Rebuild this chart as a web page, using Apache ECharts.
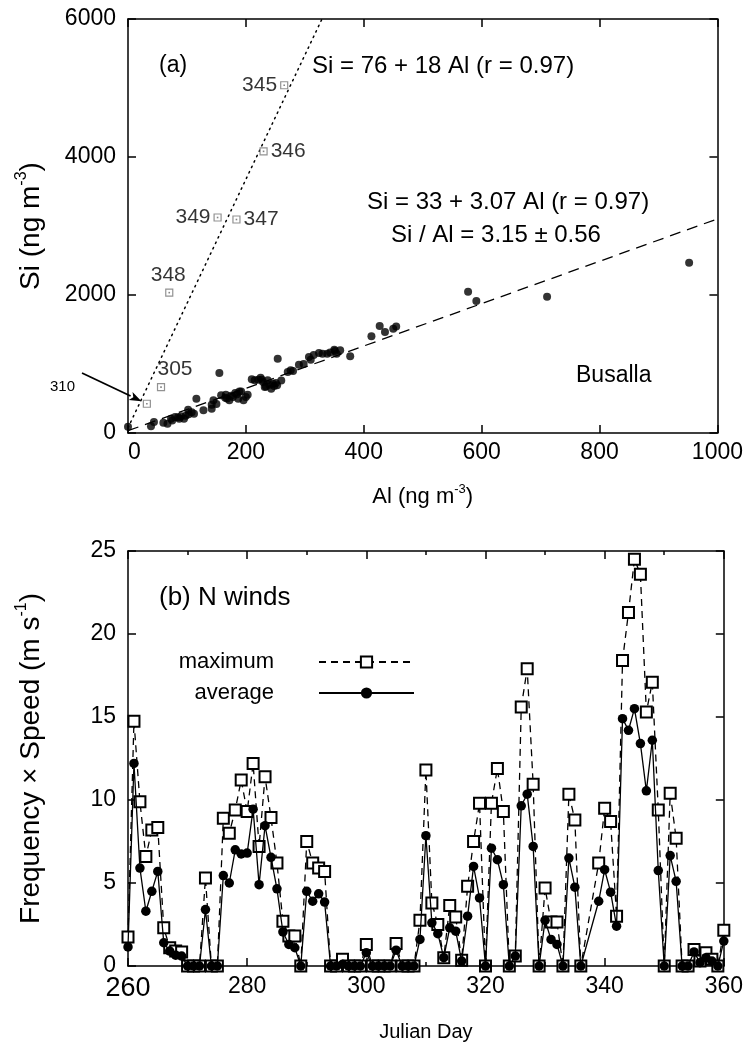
<!DOCTYPE html>
<html><head><meta charset="utf-8">
<script src="https://cdn.jsdelivr.net/npm/echarts@6/dist/echarts.min.js"></script>
<style>html,body{margin:0;padding:0;background:#fff}#c{width:746px;height:1047px}</style>
</head><body><div id="c"></div>
<script>
const FONT = '"Liberation Sans", Arial, Helvetica, sans-serif';

// ---------- (a) Si vs Al, Busalla ----------
const dotAl = [0,39,44,60,67,73,75,80,85,87,90,95,98,102,103,108,112,116,128,142,142,145,150,155,158,165,166,168,172,175,178,182,185,187,189,192,196,200,203,210,215,221,225,227,229,232,234,237,240,243,246,248,251,253,254,260,271,276,280,290,298,307,310,315,324,330,338,343,350,351,354,360,377,413,427,436,450,455,577,591,711,952];
const dotSi = [90,97,160,150,135,208,180,232,230,208,241,208,250,338,270,300,280,497,330,353,410,473,420,869,546,512,554,500,473,540,522,580,560,497,602,600,473,520,555,780,763,773,800,771,739,666,675,763,700,642,715,680,723,691,1077,760,884,908,900,990,1000,1101,1063,1130,1159,1150,1150,1166,1205,1188,1150,1200,1111,1401,1550,1463,1512,1542,2048,1913,1976,2467];
const eventDay = ['345','346','349','347','348','305','310'];
const eventAl = [265,230,152,184,70,56,32];
const eventSi = [5040,4082,3123,3094,2034,665,424];
const fitAll = {a: 33, b: 3.07};     // Si = 33 + 3.07 Al
const fitEvent = {a: 76, b: 18};     // Si = 76 + 18 Al
const xTicksA = {min: 0, max: 1000, step: 200};
const yTicksA = {min: 0, max: 6000, step: 2000};

// ---------- (b) N winds ----------
const days = [260,261,262,263,264,265,266,267,268,269,270,271,272,273,274,275,276,277,278,279,280,281,282,283,284,285,286,287,288,289,290,291,292,293,294,295,296,297,298,299,300,301,302,303,304,305,306,307,308,309,310,311,312,313,314,315,316,317,318,319,320,321,322,323,324,325,326,327,328,329,330,331,332,333,334,335,336,339,340,341,342,343,344,345,346,347,348,349,350,351,352,353,354,355,356,357,358,359,360];
const maxVals = [1.75,14.75,9.9,6.6,8.2,8.35,2.3,1.1,0.9,0.85,0,0,0,5.3,0,0,8.9,8.0,9.4,11.2,9.3,12.2,7.2,11.4,8.95,6.2,2.7,1.8,1.8,0,7.5,6.2,5.9,5.7,0,0,0.4,0,0,0,1.3,0,0,0,0,1.35,0,0,0,2.75,11.8,3.8,2.5,0.5,3.65,2.95,0.35,4.8,7.5,9.8,0,9.8,11.9,9.3,0,0.6,15.6,17.9,10.95,0,4.7,2.65,2.65,0,10.35,8.8,0,6.2,9.5,8.7,3.0,18.4,21.3,24.5,23.6,15.3,17.1,9.4,0,10.4,7.7,0,0,1.0,0.3,0.8,0.4,0,2.15];
const avgVals = [1.15,12.2,5.9,3.3,4.5,5.7,1.4,0.9,0.65,0.6,0,0,0,3.4,0,0,5.45,5.0,7.0,6.75,6.8,9.45,4.9,8.45,6.55,4.65,2.05,1.3,1.1,0,4.5,3.9,4.35,3.85,0,0,0.1,0,0,0,0.8,0,0,0,0,0.95,0,0,0,1.6,7.85,2.6,1.95,0.5,2.3,2.1,0.3,3.0,6.0,4.1,0,7.1,6.4,4.9,0,0.6,9.65,10.35,7.2,0,2.75,1.6,1.3,0,6.5,4.75,0,3.9,5.8,4.45,2.4,14.9,14.2,15.5,13.4,10.55,13.6,5.75,0,6.65,5.1,0,0,0.85,0.2,0.5,0.3,0,1.5];
const seriesNames = ['maximum', 'average'];
const xTicksB = {min: 260, max: 360, step: 20};
const yTicksB = {min: 0, max: 25, step: 5};

// ---------- build ----------
const chart = echarts.init(document.getElementById('c'), null, {renderer: 'canvas'});
const black = '#000';
const lw = 1.5;
const richX = {
  n: {fontSize: 22, fontFamily: FONT, color: black, lineHeight: 28},
  s: {fontSize: 13, fontFamily: FONT, color: black, verticalAlign: 'top', lineHeight: 14}
};
const richY = {
  n: {fontSize: 28, fontFamily: FONT, color: black, lineHeight: 34},
  s: {fontSize: 16, fontFamily: FONT, color: black, verticalAlign: 'top', lineHeight: 17}
};
const plain = v => String(v);
function axisBase(t, extra) {
  return Object.assign({
    type: 'value', min: t.min, max: t.max, interval: t.step,
    axisLine: {show: true, onZero: false, lineStyle: {color: black, width: lw}},
    axisTick: {show: true, inside: true, length: 8, lineStyle: {color: black, width: lw}},
    splitLine: {show: false},
    axisLabel: {show: true, color: black, fontSize: 23, fontFamily: FONT, margin: 9, formatter: plain}
  }, extra);
}
const grids = [
  {left: 128, right: 21, top: 19, height: 414},
  {left: 128, right: 21, top: 551, height: 415}
];
const xAxes = [
  axisBase(xTicksA, {gridIndex: 0, position: 'bottom',
    axisLabel: {color: black, fontSize: 23, fontFamily: FONT, margin: 8, alignMinLabel: 'left', formatter: plain},
    name: '{n|Al (ng m}{s|-3}{n|)}', nameLocation: 'middle', nameGap: 50,
    nameTextStyle: {rich: richX}}),
  axisBase(xTicksA, {gridIndex: 0, position: 'top', axisLabel: {show: false}}),
  axisBase(xTicksB, {gridIndex: 1, position: 'bottom',
    minorTick: {show: true, splitNumber: 2, length: 4, lineStyle: {color: black, width: lw}},
    axisLabel: {color: black, fontSize: 23, fontFamily: FONT, margin: 9,
      formatter: v => v === xTicksB.min ? '{big|' + v + '}' : String(v),
      rich: {big: {fontSize: 27, fontFamily: FONT, color: black}}},
    name: 'Julian Day', nameLocation: 'middle', nameGap: 56,
    nameTextStyle: {fontSize: 20, fontFamily: FONT, color: black}}),
  axisBase(xTicksB, {gridIndex: 1, position: 'top', axisLabel: {show: false},
    minorTick: {show: true, splitNumber: 2, length: 4, lineStyle: {color: black, width: lw}}})
];
const yAxes = [
  axisBase(yTicksA, {gridIndex: 0, position: 'left',
    axisLabel: {color: black, fontSize: 23, fontFamily: FONT, margin: 12, formatter: plain},
    name: '{n|Si (ng m}{s|-3}{n|)}', nameLocation: 'middle', nameGap: 80,
    nameTextStyle: {rich: richY}}),
  axisBase(yTicksA, {gridIndex: 0, position: 'right', axisLabel: {show: false}}),
  axisBase(yTicksB, {gridIndex: 1, position: 'left',
    axisLabel: {color: black, fontSize: 23, fontFamily: FONT, margin: 12, formatter: plain},
    name: '{n|Frequency × Speed (m s}{s|-1}{n|)}', nameLocation: 'middle', nameGap: 80,
    nameTextStyle: {rich: richY}}),
  axisBase(yTicksB, {gridIndex: 1, position: 'right', axisLabel: {show: false}})
];

const fitLine = (f, xmax) => [[0, f.a], [xmax, f.a + f.b * xmax]];
const eventXmax = (yTicksA.max - fitEvent.a) / fitEvent.b;
const labelPos = {'345': 'left', '346': 'right', '349': 'left', '347': 'right', '348': 'top', '305': 'top', '310': 'none'};
const labelOffset = {'305': [14, 0], '348': [-1, 0]};
const eventPts = eventAl.map((x, i) => [x, eventSi[i]]);

const series = [
  {type: 'line', name: 'fitAll', xAxisIndex: 0, yAxisIndex: 0, data: fitLine(fitAll, xTicksA.max),
   showSymbol: false, silent: true, z: 1,
   lineStyle: {color: black, width: 1.3, type: [11, 7]}},
  {type: 'line', name: 'fitEvent', xAxisIndex: 0, yAxisIndex: 0, data: fitLine(fitEvent, eventXmax),
   showSymbol: false, silent: true, z: 1,
   lineStyle: {color: black, width: 1.5, type: [1.5, 4.5], cap: 'round'}},
  {type: 'scatter', name: 'all', xAxisIndex: 0, yAxisIndex: 0,
   data: dotAl.map((x, i) => [x, dotSi[i]]),
   symbol: 'circle', symbolSize: 8, itemStyle: {color: black}, z: 3},
  {type: 'scatter', name: 'events', xAxisIndex: 0, yAxisIndex: 0,
   data: eventPts.map((v, i) => ({
     value: v, name: eventDay[i],
     label: labelPos[eventDay[i]] === 'none' ? {show: false} :
       {show: true, position: labelPos[eventDay[i]], distance: 3,
        offset: labelOffset[eventDay[i]] || [0, 0]}
   })),
   symbol: 'rect', symbolSize: 7,
   itemStyle: {color: '#fff', borderColor: '#777', borderWidth: 1.2},
   label: {formatter: p => p.name, color: black, fontSize: 21, fontFamily: FONT},
   z: 4},
  {type: 'scatter', name: 'eventsDot', xAxisIndex: 0, yAxisIndex: 0, data: eventPts,
   symbol: 'rect', symbolSize: 1.6, itemStyle: {color: '#666'}, silent: true, z: 5},
  {type: 'line', name: seriesNames[0], xAxisIndex: 2, yAxisIndex: 2,
   data: days.map((d, i) => [d, maxVals[i]]), clip: false,
   symbol: 'emptyRect', symbolSize: 11,
   itemStyle: {color: black, borderColor: black, borderWidth: 1.4},
   lineStyle: {color: black, width: 1.3, type: [7, 5]}, z: 3},
  {type: 'line', name: seriesNames[1], xAxisIndex: 2, yAxisIndex: 2,
   data: days.map((d, i) => [d, avgVals[i]]), clip: false,
   symbol: 'circle', symbolSize: 9.5,
   itemStyle: {color: black},
   lineStyle: {color: black, width: 1.3, type: 'solid'}, z: 4}
];

const textStyle = (t, x, y, size) => ({type: 'text', x: x, y: y, z: 20,
  style: {text: t, fontSize: size || 22, fontFamily: FONT, fill: black, align: 'left', verticalAlign: 'middle'}});

const option = {
  animation: false,
  backgroundColor: '#fff',
  grid: grids,
  xAxis: xAxes,
  yAxis: yAxes,
  legend: {
    data: seriesNames, orient: 'vertical', align: 'right', right: 326, top: 646,
    itemWidth: 95, itemHeight: 14, itemGap: 9,
    formatter: n => '{t|' + n + '}',
    textStyle: {color: black, rich: {t: {fontSize: 22, fontFamily: FONT, color: black, padding: [0, 40, 0, 0]}}},
    selectedMode: false
  },
  series: series
};
chart.setOption(option);

// annotations + arrow to day 310
const p310 = chart.convertToPixel({xAxisIndex: 0, yAxisIndex: 0}, eventPts[6]);
const start = [82, 373];
const dx = p310[0] - start[0], dy = p310[1] - start[1];
const L = Math.sqrt(dx * dx + dy * dy);
const ux = dx / L, uy = dy / L;
const tip = [p310[0] - ux * 6, p310[1] - uy * 6];
const hl = 12, hw = 4.5;
const base = [tip[0] - ux * hl, tip[1] - uy * hl];
chart.setOption({graphic: [
  textStyle('(a)', 159, 66, 23),
  textStyle('Si = 76 + 18 Al (r = 0.97)', 312, 66, 24),
  textStyle('Si = 33 + 3.07 Al (r = 0.97)', 367, 202, 24),
  textStyle('Si / Al = 3.15 ± 0.56', 391, 235, 24),
  textStyle('Busalla', 576, 376, 23),
  textStyle('310', 50, 387, 15),
  textStyle('(b) N winds', 159, 598, 26),
  {type: 'line', z: 20, shape: {x1: start[0], y1: start[1], x2: base[0], y2: base[1]},
   style: {stroke: black, lineWidth: 1.8}},
  {type: 'polygon', z: 20, shape: {points: [tip,
     [base[0] - uy * hw, base[1] + ux * hw], [base[0] + ux * 3, base[1] + uy * 3], [base[0] + uy * hw, base[1] - ux * hw]]},
   style: {fill: black}}
]});
</script>
</body></html>
